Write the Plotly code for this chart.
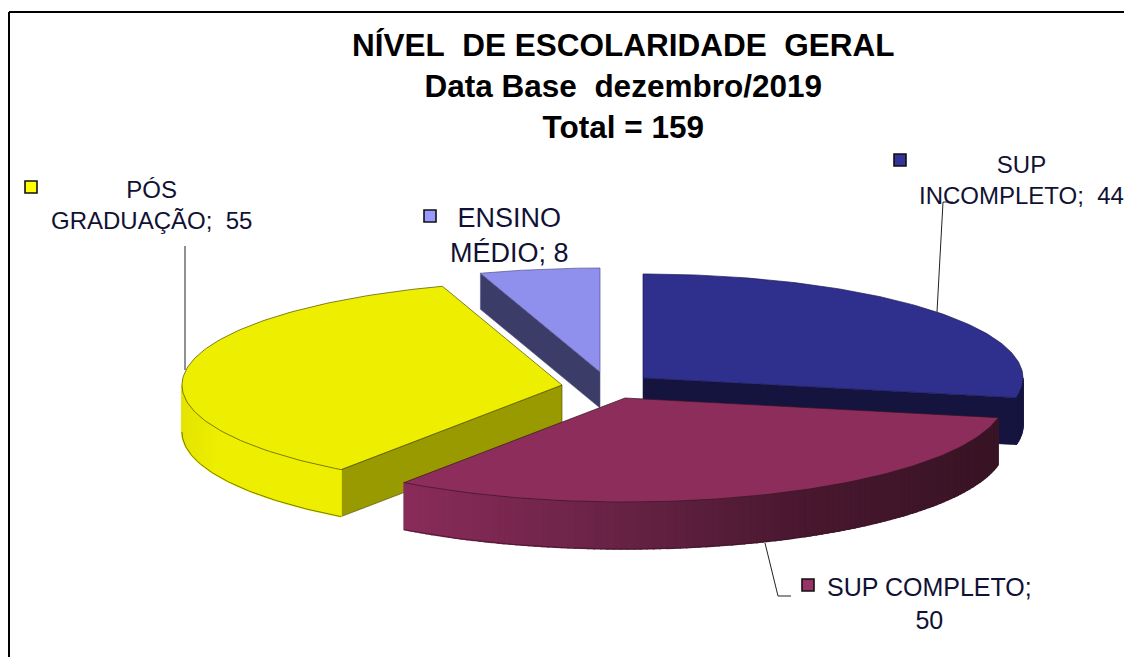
import numpy as np
import plotly.graph_objects as go

# ---- data ----
categories = ["SUP INCOMPLETO", "SUP COMPLETO", "PÓS GRADUAÇÃO", "ENSINO MÉDIO"]
values = [44, 50, 55, 8]
title_lines = ["NÍVEL\u00a0 DE ESCOLARIDADE\u00a0 GERAL", "Data Base\u00a0 dezembro/2019", "Total = 159"]
label_texts = ["SUP<br>INCOMPLETO;\u00a0 44", "SUP COMPLETO;<br>50", "PÓS<br>GRADUAÇÃO;\u00a0 55", "ENSINO<br>MÉDIO; 8"]

# ---- styling and layout of the drawn pie (pixel-scaled axes) ----
top_colors = ["#2f2f8e", "#8c2d5b", "#eeee00", "#8f8fee"]
key_colors = ["#333399", "#993366", "#ffff00", "#9999ff"]
cut_colors = ["#14143f", "#14143f", "#999900", "#3c3c69"]
rim_stops = [
    [(640, "#14143f"), (1030, "#14143f")],
    [(400, "#8b2c5b"), (640, "#642243"), (800, "#4a1830"), (1000, "#381424")],
    [(180, "#e4e400"), (215, "#eeee00"), (345, "#eeee00")],
    [(480, "#3c3c69"), (600, "#3c3c69")],
]
edge_colors = ["#1a1a50", "#3a1525", "#4a4a00", "#55558a"]
centers = [(643, 378), (625, 398), (562, 385), (600, 372)]
depths = [47, 47, 47, 36]
RX, RY = 380, 104
draw_order = [3, 0, 2, 1]
label_pos = [(1021, 180), (929, 603), (151, 205), (509, 235)]
label_sizes = [24, 25, 24, 27]
key_pos = [(900, 160), (808, 585), (31, 187), (430, 216)]
leaders = [
    ([953, 943, 937], [202, 202, 312]),
    ([765, 778, 791], [543, 596, 596]),
    ([185, 185], [246, 370]),
]

# angular spans (clockwise from 12 o'clock) come from the values
shares = np.array(values, dtype=float) / sum(values) * 360.0
ends = np.cumsum(shares)
starts = ends - shares


def pt(i, deg):
    cx, cy = centers[i]
    r = np.radians(deg)
    return cx + RX * np.sin(r), cy - RY * np.cos(r)


def rgb(h):
    return np.array([int(h[k:k + 2], 16) for k in (1, 3, 5)], dtype=float)


def shade(stops, x):
    xs = [s[0] for s in stops]
    cs = np.array([rgb(s[1]) for s in stops])
    return "rgb(%d,%d,%d)" % tuple(np.interp(x, xs, cs[:, k]) for k in range(3))


fig = go.Figure()


def poly(xs, ys, fill, line=None, width=1.5):
    fig.add_trace(go.Scatter(
        x=list(xs), y=list(ys), mode="lines", fill="toself", fillcolor=fill,
        line=dict(color=line or fill, width=width),
        hoverinfo="skip", showlegend=False))


for i in draw_order:
    a0, a1 = starts[i], ends[i]
    cx, cy = centers[i]
    d = depths[i]
    # cut faces that look towards the viewer
    faces = []
    if 180 < a0 < 360:
        faces.append(a0)
    if 0 < a1 < 180:
        faces.append(a1)
    for ang in faces:
        px, py = pt(i, ang)
        poly([cx, px, px, cx, cx], [cy, py, py + d, cy + d, cy], cut_colors[i], edge_colors[i], 0.6)
    # outer rim strips, only the part on the front half of the ellipse
    lo, hi = max(a0, 90), min(a1, 270)
    if hi > lo:
        edges = np.linspace(lo, hi, int(hi - lo) + 2)
        for b0, b1 in zip(edges[:-1], edges[1:]):
            p0, p1 = pt(i, b0), pt(i, b1)
            poly([p0[0], p1[0], p1[0], p0[0], p0[0]],
                 [p0[1], p1[1], p1[1] + d, p0[1] + d, p0[1]],
                 shade(rim_stops[i], (p0[0] + p1[0]) / 2))
        arc = np.linspace(lo, hi, 80)
        bx, by = zip(*[pt(i, t) for t in arc])
        fig.add_trace(go.Scatter(x=bx, y=np.array(by) + d, mode="lines",
                                 line=dict(color=edge_colors[i], width=0.7),
                                 hoverinfo="skip", showlegend=False))
    # top face
    arc = np.linspace(a0, a1, 120)
    ax, ay = zip(*[pt(i, t) for t in arc])
    poly([cx, *ax, cx], [cy, *ay, cy], top_colors[i], edge_colors[i], 0.7)

for lx, ly in leaders:
    fig.add_trace(go.Scatter(x=lx, y=ly, mode="lines", line=dict(color="#222222", width=1),
                             hoverinfo="skip", showlegend=False))

fig.add_trace(go.Scatter(
    x=[p[0] for p in key_pos], y=[p[1] for p in key_pos], mode="markers",
    marker=dict(symbol="square", size=12, color=key_colors, line=dict(color="#111111", width=1.6)),
    text=categories, hoverinfo="text", showlegend=False))

FONT = "Liberation Sans, Arial, sans-serif"
for txt, (x, y), sz in zip(label_texts, label_pos, label_sizes):
    fig.add_annotation(x=x, y=y, text=txt, showarrow=False, xanchor="center", yanchor="middle",
                       font=dict(family=FONT, size=sz, color="#111133"))
fig.add_annotation(x=623, y=86, text="<br>".join("<b>%s</b>" % t for t in title_lines), showarrow=False,
                   xanchor="center", yanchor="middle",
                   font=dict(family=FONT, size=31.5, color="#000000"))

fig.update_layout(
    width=1124, height=657, margin=dict(l=0, r=0, t=0, b=0),
    paper_bgcolor="white", plot_bgcolor="white",
    xaxis=dict(range=[0, 1124], visible=False, fixedrange=True),
    yaxis=dict(range=[657, 0], visible=False, fixedrange=True),
    shapes=[
        dict(type="line", x0=9, x1=1124, y0=12, y1=12, line=dict(color="#000000", width=2)),
        dict(type="line", x0=9, x1=9, y0=12, y1=657, line=dict(color="#000000", width=2)),
    ],
)
fig.write_html("out.html", config={"displayModeBar": False},
               post_script="document.body.style.margin='0';document.documentElement.style.overflow='hidden';")
